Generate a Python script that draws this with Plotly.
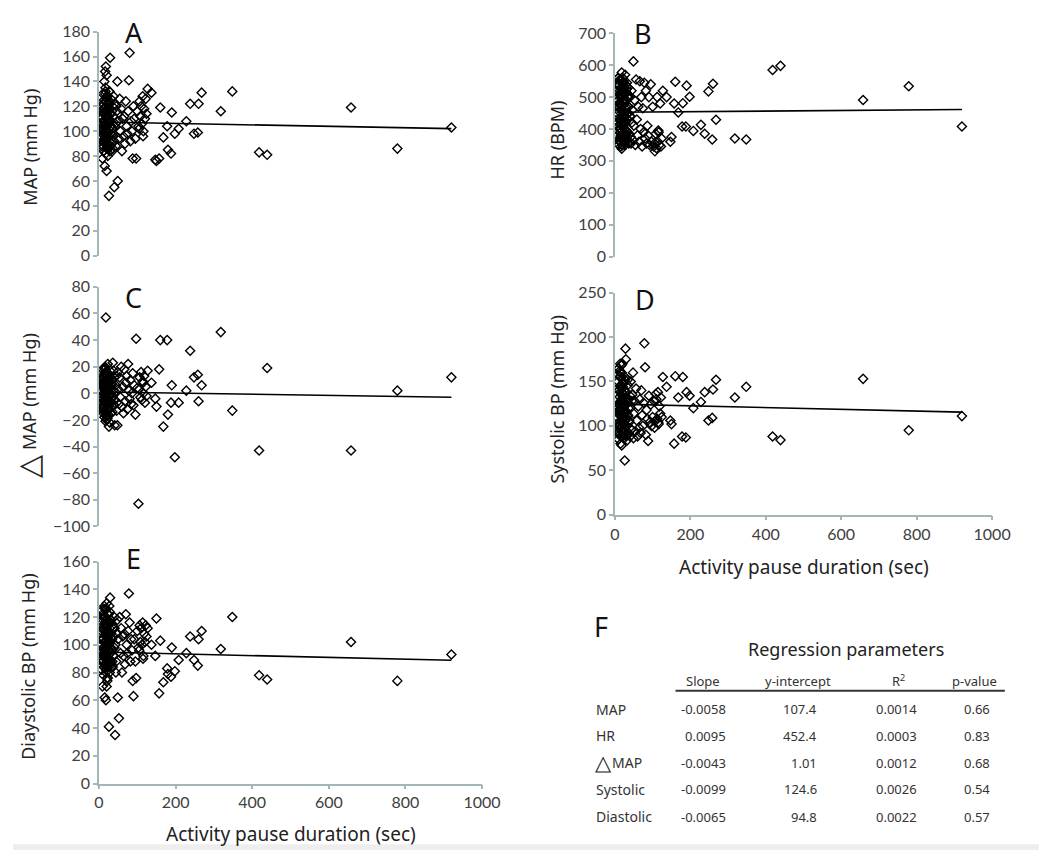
import plotly.graph_objects as go

# ---------------- data ----------------
# activity pause duration (sec): long-pause points followed by the dense short-pause cluster
pause_sec = [
    920, 779, 658, 439, 418, 348, 318, 268, 260, 258,
    248, 238, 228, 208, 198, 190, 188, 180, 178, 168,
    160, 157, 150, 147, 137, 127,
    5, 6, 7, 8, 8, 9, 10, 10, 11, 12,
    12, 13, 13, 14, 14, 15, 15, 16, 16, 17,
    17, 18, 18, 18, 19, 19, 20, 20, 20, 21,
    22, 22, 23, 23, 24, 24, 25, 25, 26, 26,
    27, 27, 28, 28, 29, 29, 30, 31, 32, 33,
    34, 35, 36, 37, 38, 40, 41, 42, 44, 46,
    48, 49, 50, 52, 54, 56, 58, 60, 62, 64,
    66, 68, 70, 72, 74, 76, 78, 80, 82, 84,
    86, 88, 90, 92, 95, 97, 100, 103, 106, 108,
    110, 112, 114, 116, 118, 120, 122, 124, 115, 105,
    9, 11, 14, 16, 19, 21, 23, 25, 28, 31,
    10, 13, 15, 17, 20, 22, 24, 27, 30, 35,
    6, 8, 10, 12, 14, 16, 18, 20, 22, 24,
    7, 9, 11, 13, 15, 17, 19, 21, 23, 25,
    26, 28, 30, 32, 34, 36, 38, 40, 43, 45,
]

map_mmhg = [
    103, 86, 119, 81, 83, 132, 116, 131, 122, 99,
    98, 122, 108, 102, 98, 115, 82, 85, 104, 95,
    119, 78, 76, 77, 131, 134,
    95, 110, 88, 120, 102, 78, 130, 92, 115, 105,
    84, 125, 98, 140, 108, 72, 118, 148, 90, 100,
    135, 152, 82, 112, 96, 124, 68, 104, 145, 88,
    116, 94, 128, 80, 110, 100, 122, 86, 48, 106,
    132, 92, 118, 84, 159, 108, 98, 126, 114, 90,
    102, 120, 86, 112, 96, 55, 122, 104, 88, 116,
    140, 60, 108, 94, 126, 100, 118, 84, 110, 96,
    112, 90, 124, 104, 98, 116, 141, 163, 92, 108,
    100, 78, 120, 110, 94, 78, 116, 104, 124, 112,
    120, 106, 128, 100, 118, 110, 126, 114, 96, 102,
    100, 118, 94, 130, 106, 86, 112, 96, 122, 104,
    108, 92, 116, 100, 126, 90, 110, 132, 98, 84,
    112, 98, 122, 88, 104, 116, 92, 128, 100, 108,
    86, 120, 102, 114, 94, 132, 106, 90, 118, 96,
    110, 124, 88, 104, 116, 98, 128, 92, 106, 120,
]

hr_bpm = [
    408, 534, 491, 598, 585, 367, 370, 429, 542, 367,
    518, 385, 413, 394, 501, 536, 408, 481, 408, 452,
    548, 480, 375, 360, 500, 520,
    450, 520, 380, 560, 420, 490, 350, 540, 470, 400,
    510, 360, 480, 430, 550, 390, 500, 440, 345, 530,
    415, 577, 338, 470, 520, 395, 455, 505, 365, 540,
    425, 485, 360, 550, 445, 510, 375, 530, 400, 465,
    350, 495, 420, 540, 380, 470, 515, 360, 445, 500,
    390, 530, 470, 355, 505, 440, 440, 375, 520, 460,
    365, 612, 410, 490, 350, 555, 430, 380, 470, 360,
    550, 400, 500, 345, 465, 390, 545, 370, 520, 355,
    410, 380, 500, 350, 540, 360, 470, 345, 330, 385,
    340, 500, 360, 390, 350, 480, 345, 370, 395, 355,
    560, 430, 510, 380, 475, 545, 410, 490, 365, 525,
    480, 555, 400, 460, 350, 515, 435, 570, 385, 450,
    470, 395, 535, 365, 505, 425, 555, 385, 490, 440,
    540, 410, 455, 520, 375, 495, 350, 560, 420, 480,
    360, 510, 395, 545, 430, 470, 385, 500, 355, 420,
]

delta_map = [
    12, 2, -43, 19, -43, -13, 46, 6, -6, 14,
    12, 32, 2, -7, -48, 6, -7, -16, 40, -25,
    40, 18, -10, -4, 8, 17,
    2, -8, 10, -12, 5, 18, -4, 8, -15, 0,
    12, -6, 4, -18, 15, -2, 7, -10, 20, -5,
    3, 57, -14, 9, -7, 13, -20, 1, 16, -9,
    6, -12, 22, -3, 11, -16, 4, -6, -25, 8,
    14, -2, -22, 5, -8, 17, 0, -11, 10, -4,
    7, -14, 23, 2, -9, 12, -24, -5, 6, -13,
    -24, 16, 3, -8, 12, -3, 20, -10, 5, -15,
    18, -6, 8, 13, -12, 22, 2, -4, 10, -8,
    0, 15, -9, 6, -16, 41, 4, -83, 12, -3,
    16, -5, 9, 0, 13, -7, 5, -2, 8, 3,
    -11, 9, -3, 14, -17, 4, -7, 11, -1, 6,
    5, -13, 18, -2, 8, -19, 1, 12, -6, 10,
    -3, 11, -9, 6, -14, 19, -1, 9, -17, 3,
    8, -10, 13, -6, 2, -21, 10, -3, 15, -12,
    4, -7, 12, -15, 7, -2, 17, -9, 1, 13,
]

systolic_bp = [
    111, 95, 153, 84, 88, 144, 132, 152, 141, 109,
    106, 138, 127, 120, 134, 138, 87, 155, 88, 132,
    156, 80, 102, 106, 144, 155,
    110, 130, 95, 150, 120, 85, 165, 100, 140, 125,
    90, 155, 115, 170, 105, 80, 145, 128, 98, 135,
    118, 128, 78, 160, 108, 142, 88, 125, 170, 96,
    132, 102, 150, 86, 122, 112, 140, 94, 61, 118,
    155, 96, 187, 90, 175, 108, 124, 138, 100, 84,
    146, 112, 92, 130, 104, 88, 120, 150, 96, 135,
    160, 86, 114, 128, 94, 142, 106, 88, 122, 98,
    130, 92, 140, 112, 100, 126, 193, 166, 90, 118,
    108, 83, 134, 104, 124, 100, 110, 128, 105, 136,
    130, 108, 138, 102, 122, 114, 132, 110, 104, 98,
    125, 102, 160, 112, 138, 92, 148, 116, 106, 130,
    100, 145, 120, 168, 94, 136, 110, 152, 88, 126,
    122, 98, 140, 112, 156, 88, 130, 104, 148, 116,
    135, 92, 118, 162, 106, 128, 96, 144, 110, 124,
    102, 138, 116, 90, 152, 120, 106, 134, 96, 128,
]

diastolic_bp = [
    93, 74, 102, 75, 78, 120, 97, 110, 104, 85,
    89, 106, 94, 89, 81, 98, 77, 79, 83, 73,
    103, 65, 119, 92, 100, 112,
    95, 110, 82, 125, 100, 70, 120, 88, 105, 92,
    78, 115, 96, 128, 102, 62, 112, 120, 86, 98,
    125, 60, 80, 108, 92, 118, 70, 100, 130, 84,
    110, 90, 122, 76, 104, 96, 116, 86, 41, 100,
    128, 88, 112, 80, 134, 102, 94, 118, 108, 86,
    96, 114, 84, 106, 92, 98, 112, 35, 80, 108,
    118, 62, 104, 47, 120, 94, 112, 80, 106, 92,
    108, 86, 122, 100, 94, 110, 137, 116, 88, 104,
    96, 74, 63, 104, 88, 76, 110, 98, 114, 102,
    112, 100, 116, 92, 108, 102, 114, 106, 90, 96,
    92, 122, 86, 114, 100, 76, 106, 90, 116, 98,
    104, 84, 110, 96, 118, 74, 102, 124, 88, 88,
    104, 88, 118, 94, 110, 126, 82, 100, 114, 96,
    90, 112, 98, 120, 84, 106, 116, 94, 102, 122,
    108, 96, 118, 84, 104, 112, 92, 120, 100, 88,
]

# regression table (panel F)
reg_rows = ["MAP", "HR", "MAP", "Systolic", "Diastolic"]
reg_row_has_delta = [False, False, True, False, False]
reg_slope = [-0.0058, 0.0095, -0.0043, -0.0099, -0.0065]
reg_intercept = [107.4, 452.4, 1.01, 124.6, 94.8]
reg_r2 = [0.0014, 0.0003, 0.0012, 0.0026, 0.0022]
reg_p = [0.66, 0.83, 0.68, 0.54, 0.57]
slope_txt = ["-0.0058", "0.0095", "-0.0043", "-0.0099", "-0.0065"]
intercept_txt = ["107.4", "452.4", "1.01", "124.6", "94.8"]
r2_txt = ["0.0014", "0.0003", "0.0012", "0.0026", "0.0022"]
p_txt = ["0.66", "0.83", "0.68", "0.54", "0.57"]

# ---------------- layout helpers ----------------
W, H = 1050, 851
def px(x):
    return x / W
def py(y):
    return 1 - y / H

AXIS_COLOR = "#a3b6b8"
TICK_FONT = dict(family="Lato, Carlito, Liberation Sans, sans-serif", size=16, color="#404040")
TITLE_FAMILY = "Noto Sans, Open Sans, sans-serif"
TABLE_FONT = "Noto Sans, Open Sans, sans-serif"

panels = [
    ("A", "x", "y", map_mmhg, 0, (88, 480), (14, 243), (0, 180), 20, False),
    ("B", "x2", "y2", hr_bpm, 1, (616, 1002), (15.7, 244), (0, 700), 100, False),
    ("C", "x3", "y3", delta_map, 2, (88, 480), (275, 520), (-100, 80), 20, False),
    ("D", "x4", "y4", systolic_bp, 3, (616, 1002), (281, 508), (0, 250), 50, True),
    ("E", "x5", "y5", diastolic_bp, 4, (88, 480), (556, 783), (0, 160), 20, True),
]

fig = go.Figure()
layout = dict(
    width=W, height=H, margin=dict(l=0, r=0, t=0, b=0),
    paper_bgcolor="white", plot_bgcolor="white", showlegend=False,
)

xmin, xmax = min(pause_sec), max(pause_sec)
for name, xa, ya, ydata, ri, (x0, x1), (yt, yb), yr, dt, showx in panels:
    fig.add_trace(go.Scatter(
        x=pause_sec, y=ydata, mode="markers", xaxis=xa, yaxis=ya,
        marker=dict(symbol="diamond-open", size=7, color="black", line=dict(width=1.4, color="black")),
        hoverinfo="skip",
    ))
    lx = [xmin, xmax]
    ly = [reg_intercept[ri] + reg_slope[ri] * v for v in lx]
    fig.add_trace(go.Scatter(
        x=lx, y=ly, mode="lines", xaxis=xa, yaxis=ya,
        line=dict(color="black", width=1.6), hoverinfo="skip",
    ))
    xkey = "xaxis" if xa == "x" else "xaxis" + xa[1:]
    ykey = "yaxis" if ya == "y" else "yaxis" + ya[1:]
    layout[xkey] = dict(
        domain=[px(x0), px(x1)], range=[0, 1000], anchor=ya,
        showgrid=False, zeroline=False, showline=showx, linecolor=AXIS_COLOR, linewidth=1.5,
        ticks="outside" if showx else "", ticklen=4, tickcolor=AXIS_COLOR, tickwidth=1.5,
        showticklabels=showx, tick0=0, dtick=200, tickfont=TICK_FONT,
    )
    layout[ykey] = dict(
        domain=[py(yb), py(yt)], range=list(yr), anchor=xa,
        showgrid=False, zeroline=False, showline=True, linecolor=AXIS_COLOR, linewidth=1.5,
        ticks="outside", ticklen=4, tickcolor=AXIS_COLOR, tickwidth=1.5,
        tick0=yr[0], dtick=dt, tickfont=TICK_FONT,
    )

fig.update_layout(**layout)

ann = []
def A(x, y, text, size, xanchor="center", yanchor="middle", angle=0, color="#222222", family=None):
    ann.append(dict(
        x=px(x), y=py(y), xref="paper", yref="paper", text=text, showarrow=False,
        xanchor=xanchor, yanchor=yanchor, textangle=angle,
        font=dict(family=family or TITLE_FAMILY, size=size, color=color),
    ))

# panel letters
for letter, x, y in [("A", 124, 15), ("B", 645, 16), ("C", 123, 286), ("D", 647, 288), ("E", 123, 553), ("F", 602, 622)]:
    A(x, y, letter, 27, color="#111111")

# axis titles
A(17, 132, "MAP (mm Hg)", 18, angle=-90)
A(557, 125, "HR (BPM)", 18, angle=-90)
A(17, 382, "MAP (mm Hg)", 18, angle=-90)
A(15, 459, "\u25b3", 30, angle=-90)
A(557, 390, "Systolic BP (mm Hg)", 18, angle=-90)
A(16, 663, "Diaystolic BP (mm Hg)", 18, angle=-90)
A(810, 562, "Activity pause duration (sec)", 19)
A(285, 835, "Activity pause duration (sec)", 19)

# regression table
A(852, 645, "Regression parameters", 18, family=TABLE_FONT)
for txt, cx in [("Slope", 706), ("y-intercept", 803), ("R<sup>2</sup>", 906), ("p-value", 984)]:
    A(cx, 678, txt, 13, family=TABLE_FONT, color="#333333")
row_y = [707, 734, 762, 789, 817]
for i, yy in enumerate(row_y):
    if reg_row_has_delta[i]:
        A(594, yy - 1, "\u25b3", 21, xanchor="left", family=TABLE_FONT, color="#222222")
        A(611, yy, reg_rows[i], 14, xanchor="left", family=TABLE_FONT, color="#333333")
    else:
        A(595, yy, reg_rows[i], 14, xanchor="left", family=TABLE_FONT, color="#333333")
    A(732, yy, slope_txt[i], 13, xanchor="right", family=TABLE_FONT, color="#333333")
    A(825, yy, intercept_txt[i], 13, xanchor="right", family=TABLE_FONT, color="#333333")
    A(927, yy, r2_txt[i], 13, xanchor="right", family=TABLE_FONT, color="#333333")
    A(1002, yy, p_txt[i], 13, xanchor="right", family=TABLE_FONT, color="#333333")

shapes = [
    dict(type="line", xref="paper", yref="paper", x0=px(678), x1=px(1015), y0=py(688), y1=py(688),
         line=dict(color="#333333", width=2)),
    dict(type="rect", xref="paper", yref="paper", x0=0, x1=1, y0=0, y1=py(845),
         fillcolor="#eeeeee", line=dict(width=0), layer="below"),
]
fig.update_layout(annotations=ann, shapes=shapes)

fig.write_html("out.html")
